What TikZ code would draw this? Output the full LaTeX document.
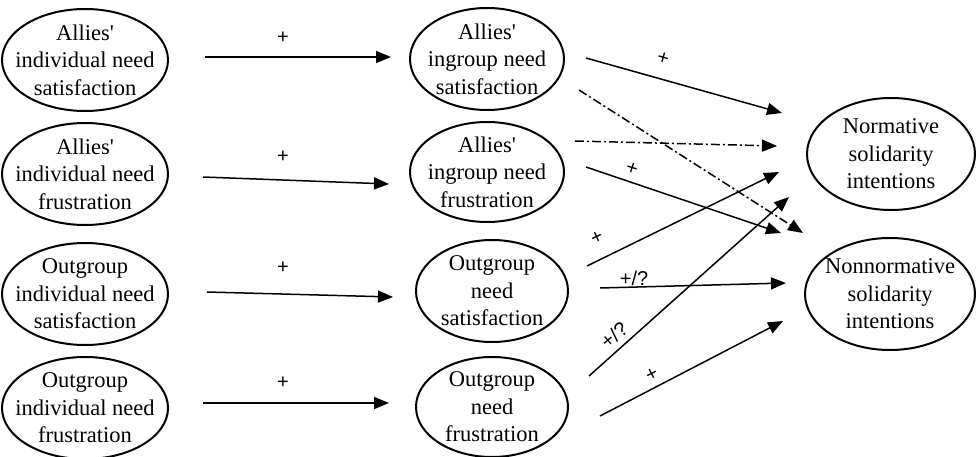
\documentclass[tikz,border=0pt]{standalone}
\usepackage{fontspec}
\setmainfont{Liberation Serif}[Ligatures=TeXOff]
\newfontfamily\labfont{Liberation Sans}
\usetikzlibrary{shapes.geometric,arrows.meta}
\tikzset{
  var/.style={ellipse, draw, line width=2pt, minimum width=166pt, minimum height=102pt,
    align=center, inner sep=-30pt, font=\fontsize{22.5}{27.5}\selectfont},
  arr/.style={line width=1.5pt, -{Triangle[length=15pt,width=12pt]}},
  dd/.style={arr, dash pattern=on 9pt off 3pt on 2pt off 3pt},
  lab/.style={font=\labfont\fontsize{20}{22}\selectfont, inner sep=0pt}
}
\begin{document}
\begin{tikzpicture}[x=1pt,y=-1pt]
\useasboundingbox (0,0) rectangle (976,457);
% left column
\node[var] (L1) at (85,60) {Allies'\\individual need\\satisfaction};
\node[var] (L2) at (85,174) {Allies'\\individual need\\frustration};
\node[var] (L3) at (85,294) {Outgroup\\individual need\\satisfaction};
\node[var] (L4) at (85,408) {Outgroup\\individual need\\frustration};
% middle column
\node[var, minimum width=154pt] (M1) at (487,59) {Allies'\\ingroup need\\satisfaction};
\node[var, minimum width=154pt, minimum height=100pt] (M2) at (487,172) {Allies'\\ingroup need\\frustration};
\node[var, minimum width=152pt] (M3) at (492,291) {Outgroup\\need\\satisfaction};
\node[var, minimum width=152pt, minimum height=100pt] (M4) at (492,407) {Outgroup\\need\\frustration};
% right column
\node[var, minimum width=168pt, minimum height=112pt] (R1) at (891,154) {Normative\\solidarity\\intentions};
\node[var, minimum width=170pt, minimum height=112pt] (R2) at (890,294) {Nonnormative\\solidarity\\intentions};

% arrow end points
\coordinate (h1s) at (205,57);  \coordinate (h1e) at (391,57);
\coordinate (h2s) at (203,177); \coordinate (h2e) at (389,184);
\coordinate (h3s) at (207,292); \coordinate (h3e) at (393,297);
\coordinate (h4s) at (203,403); \coordinate (h4e) at (389,403);

\coordinate (a1s) at (586,58);  \coordinate (a1e) at (782,113);
\coordinate (a2s) at (579,90);  \coordinate (a2e) at (803,233);
\coordinate (a3s) at (575,141); \coordinate (a3e) at (777,146);
\coordinate (a4s) at (586,167); \coordinate (a4e) at (781,233);
\coordinate (a5s) at (587,266); \coordinate (a5e) at (779,172);
\coordinate (a6s) at (589,376); \coordinate (a6e) at (789,197);
\coordinate (a7s) at (600,288); \coordinate (a7e) at (786,283);
\coordinate (a8s) at (600,416); \coordinate (a8e) at (783,321);

\draw[arr] (h1s) -- (h1e);
\draw[arr] (h2s) -- (h2e);
\draw[arr] (h3s) -- (h3e);
\draw[arr] (h4s) -- (h4e);

\draw[arr] (a1s) -- (a1e);
\draw[dd] (a2s) -- (a2e);
\draw[dd] (a3s) -- (a3e);
\draw[arr] (a4s) -- (a4e);
\draw[arr] (a5s) -- (a5e);
\draw[arr] (a6s) -- (a6e);
\draw[arr] (a7s) -- (a7e);
\draw[arr] (a8s) -- (a8e);

% labels
\node[lab] (p1) at (283,38) {+};
\node[lab] (p2) at (283,157) {+};
\node[lab] (p3) at (283,268) {+};
\node[lab] (p4) at (283,383) {+};
\node[lab, rotate=-16] (q1) at (663,59) {+};
\node[lab, rotate=-18] (q4) at (632,169) {+};
\node[lab, rotate=25] (q5) at (597,238) {+};
\node[lab, rotate=41] (q6) at (614,335) {+/?};
\node[lab] (q7) at (634,278) {+/?};
\node[lab, rotate=27] (q8) at (652,375) {+};
\end{tikzpicture}
\end{document}
